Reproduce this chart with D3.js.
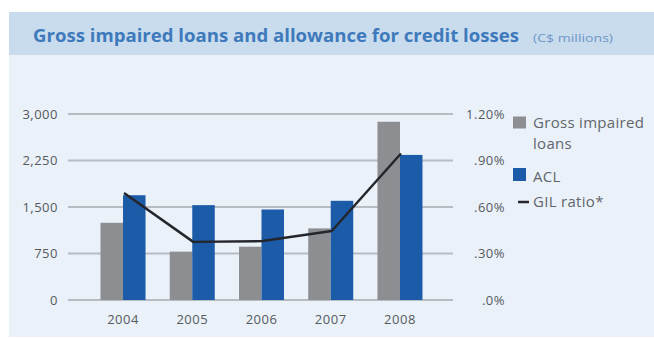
<!DOCTYPE html>
<html>
<head>
<meta charset="utf-8">
<script src="https://cdn.jsdelivr.net/npm/d3@7"></script>
<style>
  html, body { margin: 0; padding: 0; background: #ffffff; }
  svg { display: block; }
  text { font-family: "Open Sans", "Noto Sans", sans-serif; }
</style>
</head>
<body>
<svg id="chart" width="654" height="339"></svg>
<script>
// Years on the category axis
const years = ["2004", "2005", "2006", "2007", "2008"];
// Gross impaired loans, C$ millions
const grossImpaired = [1245, 780, 860, 1155, 2875];
// Allowance for credit losses, C$ millions
const acl = [1690, 1530, 1460, 1600, 2340];
// GIL ratio, percent
const gilRatio = [0.69, 0.375, 0.38, 0.445, 0.945];
// Left axis ticks (C$ millions) and right axis tick labels
const leftTicks = [0, 750, 1500, 2250, 3000];
const rightTicks = [0, 0.3, 0.6, 0.9, 1.2];
const rightTickLabels = [".0%", ".30%", ".60%", ".90%", "1.20%"];

const svg = d3.select("#chart");

// panel and title band
svg.append("rect").attr("x", 9).attr("y", 12).attr("width", 645).attr("height", 325)
  .attr("fill", "#eaf1f9");
svg.append("rect").attr("x", 9).attr("y", 12).attr("width", 645).attr("height", 43)
  .attr("fill", "#c9dcee");

svg.append("text")
  .attr("x", 33).attr("y", 42)
  .attr("font-size", 17).attr("font-weight", 700)
  .attr("fill", "#3e7abb")
  .attr("textLength", 486).attr("lengthAdjust", "spacingAndGlyphs")
  .text("Gross impaired loans and allowance for credit losses");
svg.append("text")
  .attr("x", 533).attr("y", 42)
  .attr("font-size", 10.5)
  .attr("fill", "#6e96c6")
  .attr("textLength", 80).attr("lengthAdjust", "spacingAndGlyphs")
  .text("(C$ millions)");

// scales
const x = d3.scaleBand().domain(years).range([88.4, 434.6]).padding(0);
const series = d3.scaleBand().domain(["gil", "acl"]).range([0, 45]);
const y = d3.scaleLinear().domain([0, 3000]).range([300, 114]);
const yRight = d3.scaleLinear().domain([0, 1.2]).range([300, 114]);

// gridlines
svg.append("g").selectAll("line").data(leftTicks).join("line")
  .attr("x1", 68).attr("x2", 453)
  .attr("y1", d => y(d)).attr("y2", d => y(d))
  .attr("stroke", "#b7bcc3").attr("stroke-width", 2);

// left axis labels
svg.append("g").selectAll("text").data(leftTicks).join("text")
  .attr("x", 58).attr("y", d => y(d))
  .attr("dy", "0.35em").attr("text-anchor", "end")
  .attr("font-size", 13).attr("letter-spacing", 0.5).attr("fill", "#555a60")
  .text(d => d3.format(",")(d));

// right axis labels
svg.append("g").selectAll("text").data(rightTicks).join("text")
  .attr("x", 505).attr("y", d => yRight(d))
  .attr("dy", "0.35em").attr("text-anchor", "end")
  .attr("font-size", 13).attr("letter-spacing", 0.5).attr("fill", "#555a60")
  .text((d, i) => rightTickLabels[i]);

// bars
const center = d => x(d) + x.bandwidth() / 2 - 22.5;
svg.append("g").selectAll("rect").data(years).join("rect")
  .attr("x", d => center(d) + series("gil"))
  .attr("width", series.bandwidth())
  .attr("y", (d, i) => y(grossImpaired[i]))
  .attr("height", (d, i) => y(0) - y(grossImpaired[i]))
  .attr("fill", "#8d8e91");
svg.append("g").selectAll("rect").data(years).join("rect")
  .attr("x", d => center(d) + series("acl"))
  .attr("width", series.bandwidth())
  .attr("y", (d, i) => y(acl[i]))
  .attr("height", (d, i) => y(0) - y(acl[i]))
  .attr("fill", "#1b5ba7");

// GIL ratio line
const line = d3.line()
  .x((d, i) => x(years[i]) + x.bandwidth() / 2 + 1)
  .y(d => yRight(d));
svg.append("path").datum(gilRatio)
  .attr("d", line)
  .attr("fill", "none")
  .attr("stroke", "#25262d").attr("stroke-width", 2.5)
  .attr("stroke-linejoin", "round");

// year labels
svg.append("g").selectAll("text").data(years).join("text")
  .attr("x", d => x(d) + x.bandwidth() / 2)
  .attr("y", 324)
  .attr("text-anchor", "middle")
  .attr("font-size", 13).attr("letter-spacing", 0.5).attr("fill", "#555a60")
  .text(d => d);

// legend
const legend = svg.append("g").attr("font-size", 15).attr("letter-spacing", 0.3)
  .attr("fill", "#61666c");
legend.append("rect").attr("x", 513).attr("y", 116.5).attr("width", 13).attr("height", 12)
  .attr("fill", "#8d8e91");
legend.append("text").attr("x", 533).attr("y", 128).text("Gross impaired");
legend.append("text").attr("x", 533).attr("y", 149).text("loans");
legend.append("rect").attr("x", 513).attr("y", 168).attr("width", 13).attr("height", 13)
  .attr("fill", "#1b5ba7");
legend.append("text").attr("x", 533).attr("y", 182).text("ACL");
legend.append("line").attr("x1", 518).attr("x2", 529).attr("y1", 202).attr("y2", 202)
  .attr("stroke", "#25262d").attr("stroke-width", 2.5);
legend.append("text").attr("x", 533).attr("y", 207).text("GIL ratio*");
</script>
</body>
</html>
